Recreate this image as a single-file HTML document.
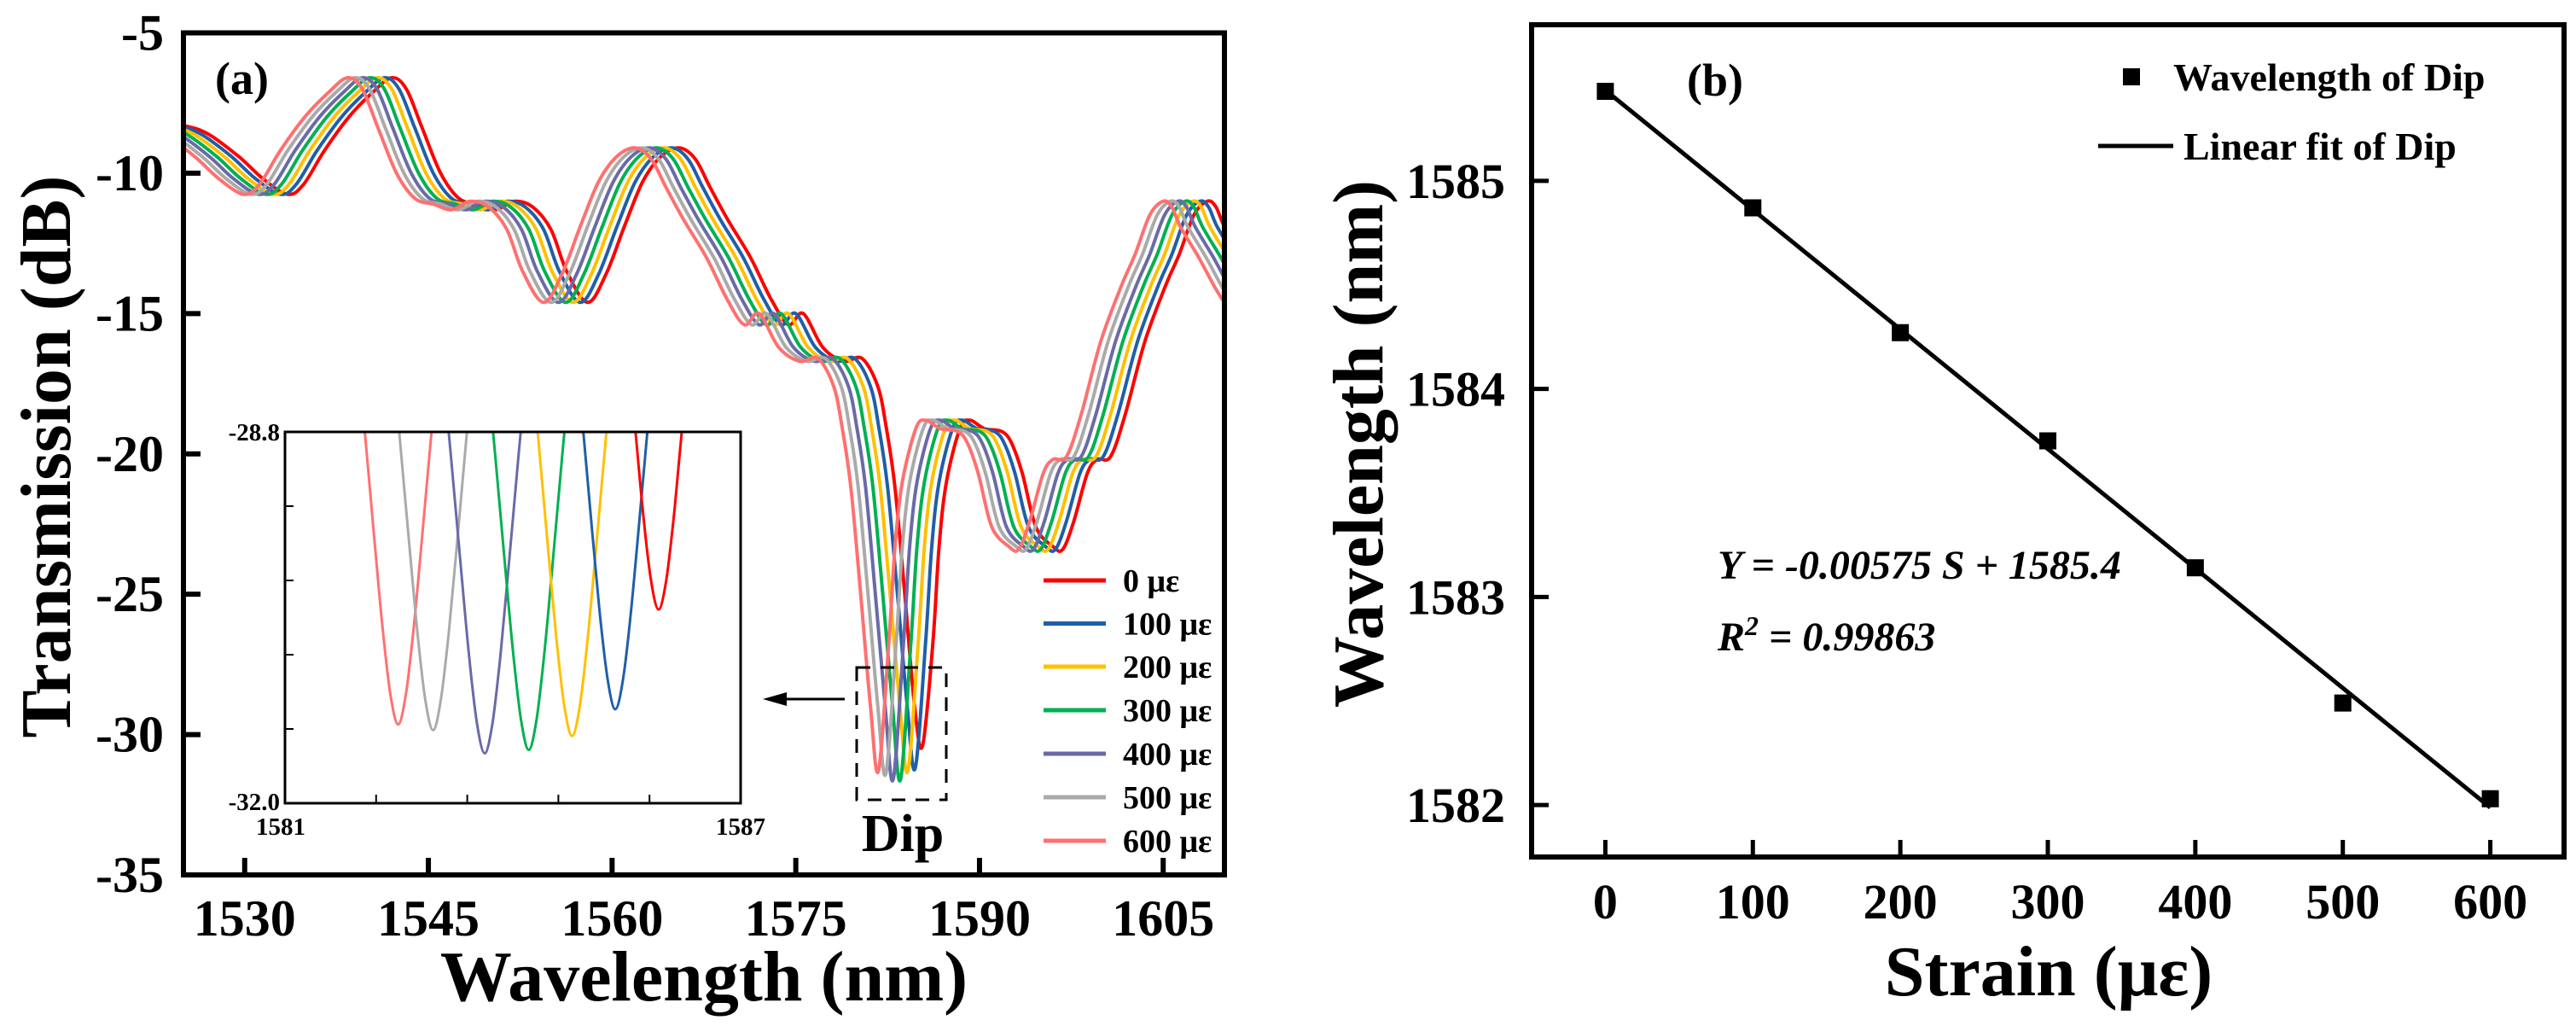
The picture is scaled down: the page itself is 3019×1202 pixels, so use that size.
<!DOCTYPE html>
<html><head><meta charset="utf-8"><style>
html,body{margin:0;padding:0;background:#fff}
svg{display:block;font-family:"Liberation Serif",serif;font-weight:bold}
</style></head><body>
<svg id="fig" width="3019" height="1202" viewBox="0 0 3019 1202" xmlns="http://www.w3.org/2000/svg">
<defs>
<clipPath id="clipA"><rect x="215" y="38.5" width="1220" height="986.5"/></clipPath>
<clipPath id="clipI"><rect x="334" y="506" width="534" height="435"/></clipPath>
</defs>
<g id="panelA"></g>
<g id="panelB"></g>
</svg>
<script>
// ---------- Panel (a) data ----------
const seriesLabels = ["0 με","100 με","200 με","300 με","400 με","500 με","600 με"];
const seriesColors = ["#ff0000","#1f5fa8","#ffc000","#00b050","#6a6aa8","#aaaaaa","#ff7070"];
const seriesShift = [0,-0.6,-1.2,-1.8,-2.4,-3.0,-3.6];
const seriesDipDepth = [-30.4,-31.2,-31.3,-31.6,-31.6,-31.4,-31.3];
const baseWl = [1522,1525,1527,1529.5,1531.5,1533.5,1534.8,1536.5,1538.5,1540.5,1542,1543.2,1544.5,1546,1547.5,1549,1550.5,1552,1553.5,1555,1556.3,1558,1559.5,1561,1562.5,1564,1565.5,1566.8,1568,1569.5,1571.3,1573,1574.4,1575.6,1577.2,1578.9,1580.4,1581.7,1582.4,1583.1,1583.9,1584.7,1585.35,1586.2,1586.7,1587.3,1588.4,1589.2,1590.4,1591.8,1592.6,1593.5,1594.6,1596.0,1596.8,1597.7,1598.8,1599.6,1600.7,1601.9,1603.5,1605.2,1606.3,1607.5,1608.6,1609.3,1610,1611.5,1613,1614.5];
const baseDb = [-8.1,-8.3,-8.6,-9.4,-10.2,-10.75,-10.4,-9.2,-8.0,-7.1,-6.6,-7.0,-8.4,-10.0,-10.9,-11.1,-11.3,-11.0,-11.2,-12.0,-13.5,-14.6,-13.6,-11.9,-10.3,-9.4,-9.1,-9.5,-10.5,-11.7,-13.0,-14.5,-15.4,-15.0,-16.2,-16.7,-16.6,-17.6,-19.1,-21.2,-25.0,-29.0,-30.4,-26.7,-23.3,-21.0,-19.1,-18.8,-19.1,-19.2,-19.6,-20.7,-22.6,-23.3,-23.4,-22.4,-20.7,-20.2,-20.1,-18.6,-16.0,-14.0,-12.9,-11.5,-11.0,-11.2,-11.9,-13.0,-14.2,-15.2];
const dipIndex = 42;
const xTicksA = [1530,1545,1560,1575,1590,1605];
const yTicksA = [-5,-10,-15,-20,-25,-30,-35];
// inset data
const insetDipCenter = [1585.92,1585.35,1584.78,1584.21,1583.63,1582.95,1582.49];
const insetDipDepth = [-30.33,-31.19,-31.42,-31.54,-31.57,-31.37,-31.32];
const insetProfileOffset = [-0.7,-0.55,-0.45,-0.3,-0.2,-0.1,0,0.1,0.2,0.3,0.45,0.55,0.7];
const insetProfileRise = [4.4,3.3,2.6,1.5,0.8,0.25,0,0.25,0.8,1.5,2.6,3.3,4.4];
const insetXLabels = ["1581","1587"];
const insetYLabels = ["-28.8","-32.0"];
// ---------- Panel (b) data ----------
const strain = [0,100,200,300,400,500,600];
const dipWl = [1585.43,1584.87,1584.27,1583.75,1583.14,1582.49,1582.03];
const xTicksB = [0,100,200,300,400,500,600];
const yTicksB = [1582,1583,1584,1585];

const NS = "http://www.w3.org/2000/svg";
function mk(tag, attrs, parent){const e=document.createElementNS(NS,tag);for(const k in attrs)e.setAttribute(k,attrs[k]);parent.appendChild(e);return e;}
function spline(pts){
  let d="M"+pts[0][0].toFixed(1)+","+pts[0][1].toFixed(1);
  for(let i=0;i<pts.length-1;i++){
    const p0=pts[Math.max(0,i-1)],p1=pts[i],p2=pts[i+1],p3=pts[Math.min(pts.length-1,i+2)];
    const c1=[p1[0]+(p2[0]-p0[0])/6,p1[1]+(p2[1]-p0[1])/6];
    const c2=[p2[0]-(p3[0]-p1[0])/6,p2[1]-(p3[1]-p1[1])/6];
    d+="C"+c1[0].toFixed(1)+","+c1[1].toFixed(1)+" "+c2[0].toFixed(1)+","+c2[1].toFixed(1)+" "+p2[0].toFixed(1)+","+p2[1].toFixed(1);
  }
  return d;
}

// ===== Panel A =====
const A=document.getElementById("panelA");
const axL=215,axR=1435,axT=38.5,axB=1025;
const xA=v=>axL+(v-1525)/(1610-1525)*(axR-axL);
const yA=v=>axT+(v-(-5))/(-35-(-5))*(axB-axT);

for(let s=0;s<seriesLabels.length;s++){
  const pts=baseWl.map((w,i)=>[xA(w+seriesShift[s]), yA(i===dipIndex?seriesDipDepth[s]:baseDb[i])]);
  const p=mk("path",{d:spline(pts),fill:"none",stroke:seriesColors[s],"stroke-width":4,"clip-path":"url(#clipA)"},A);
  
  
}
const frameA=mk("rect",{x:axL,y:axT,width:axR-axL,height:axB-axT,fill:"none",stroke:"#000","stroke-width":6},A);


xTicksA.forEach(v=>{
  mk("line",{x1:xA(v),x2:xA(v),y1:axB,y2:axB-20,stroke:"#000","stroke-width":6},A);
  const t=mk("text",{x:xA(v),y:1096,"font-size":60,"text-anchor":"middle"},A);t.textContent=v;
  
  
});
yTicksA.forEach(v=>{
  mk("line",{x1:axL,x2:axL+20,y1:yA(v),y2:yA(v),stroke:"#000","stroke-width":6},A);
  const t=mk("text",{x:192,y:yA(v)+20,"font-size":60,"text-anchor":"end"},A);t.textContent=v;
  
  
});
let tt=mk("text",{x:825,y:1172,"font-size":84,"text-anchor":"middle"},A);tt.textContent="Wavelength (nm)";


tt=mk("text",{x:0,y:0,"font-size":84,"text-anchor":"middle",transform:"translate(82,535) rotate(-90)"},A);tt.textContent="Transmission (dB)";


tt=mk("text",{x:252,y:110,"font-size":54},A);tt.textContent="(a)";



// legend a
const legY=[680,730.5,781,832,883,934,985];
seriesLabels.forEach((l,i)=>{
  const ln=mk("line",{x1:1223,x2:1296,y1:legY[i],y2:legY[i],stroke:seriesColors[i],"stroke-width":5},A);
  
  
  const t=mk("text",{x:1316,y:legY[i]+13,"font-size":38},A);t.textContent=l;
  
  
});

// dip box, arrow, label
const box=mk("rect",{x:1004,y:782,width:105,height:155,fill:"none",stroke:"#000","stroke-width":3,"stroke-dasharray":"16,12"},A);


const arr=mk("line",{x1:990,x2:912,y1:819,y2:819,stroke:"#000","stroke-width":3},A);


const ah=mk("polygon",{points:"894,819 922,811 922,827",fill:"#000"},A);


tt=mk("text",{x:1058,y:997,"font-size":62,"text-anchor":"middle"},A);tt.textContent="Dip";



// inset
const iL=334,iR=868,iT=506,iB=941;
const xI=v=>iL+(v-1581)/(1587-1581)*(iR-iL);
const yI=v=>iT+(v-(-28.8))/(-32-(-28.8))*(iB-iT);
const insetBg=mk("rect",{x:iL,y:iT,width:iR-iL,height:iB-iT,fill:"#fff"},A);


for(let s=seriesLabels.length-1;s>=0;s--){
  const pts=insetProfileOffset.map((o,k)=>[xI(insetDipCenter[s]+o), yI(insetDipDepth[s]+insetProfileRise[k])]);
  const p=mk("path",{d:spline(pts),fill:"none",stroke:seriesColors[s],"stroke-width":3,"clip-path":"url(#clipI)"},A);
  
  
}
const iframe=mk("rect",{x:iL,y:iT,width:iR-iL,height:iB-iT,fill:"none",stroke:"#000","stroke-width":3},A);


for(let k=1;k<5;k++){
  mk("line",{x1:xI(1581+1.2*k),x2:xI(1581+1.2*k),y1:iB,y2:iB-10,stroke:"#000","stroke-width":2},A);
  mk("line",{x1:iL,x2:iL+10,y1:yI(-28.8-0.64*k),y2:yI(-28.8-0.64*k),stroke:"#000","stroke-width":2},A);
}
tt=mk("text",{x:328,y:yI(-28.8)+10,"font-size":29,"text-anchor":"end"},A);tt.textContent=insetYLabels[0];


tt=mk("text",{x:328,y:yI(-32)+8,"font-size":29,"text-anchor":"end"},A);tt.textContent=insetYLabels[1];


tt=mk("text",{x:xI(1581)-5,y:978,"font-size":29,"text-anchor":"middle"},A);tt.textContent=insetXLabels[0];


tt=mk("text",{x:xI(1587),y:978,"font-size":29,"text-anchor":"middle"},A);tt.textContent=insetXLabels[1];



// ===== Panel B =====
const B=document.getElementById("panelB");
const bL=1795,bR=3005,bT=29,bB=1004;
const xB=v=>bL+(v-(-50))/(650-(-50))*(bR-bL);
const yB=v=>bT+(1585.75-v)/(1585.75-1581.75)*(bB-bT);
const n=strain.length,mx=strain.reduce((a,b)=>a+b)/n,my=dipWl.reduce((a,b)=>a+b)/n;
let sxy=0,sxx=0;strain.forEach((x,i)=>{sxy+=(x-mx)*(dipWl[i]-my);sxx+=(x-mx)*(x-mx);});
const slope=sxy/sxx,icpt=my-slope*mx;
const fit=mk("line",{x1:xB(strain[0]),y1:yB(icpt+slope*strain[0]),x2:xB(strain[n-1]),y2:yB(icpt+slope*strain[n-1]),stroke:"#000","stroke-width":5},B);


strain.forEach((s,i)=>{
  const r=mk("rect",{x:xB(s)-10,y:yB(dipWl[i])-10,width:20,height:20,fill:"#000"},B);
  
  
});
const frameB=mk("rect",{x:bL,y:bT,width:bR-bL,height:bB-bT,fill:"none",stroke:"#000","stroke-width":6},B);


xTicksB.forEach(v=>{
  mk("line",{x1:xB(v),x2:xB(v),y1:bB,y2:bB-20,stroke:"#000","stroke-width":5},B);
  const t=mk("text",{x:xB(v),y:1076,"font-size":58,"text-anchor":"middle"},B);t.textContent=v;
  
  
});
yTicksB.forEach(v=>{
  mk("line",{x1:bL,x2:bL+20,y1:yB(v),y2:yB(v),stroke:"#000","stroke-width":5},B);
  const t=mk("text",{x:1764,y:yB(v)+20,"font-size":58,"text-anchor":"end"},B);t.textContent=v;
  
  
});
tt=mk("text",{x:2401,y:1166,"font-size":84,"text-anchor":"middle"},B);tt.textContent="Strain (με)";


tt=mk("text",{x:0,y:0,"font-size":84,"text-anchor":"middle",transform:"translate(1620,520) rotate(-90)"},B);tt.textContent="Wavelength (nm)";


tt=mk("text",{x:1977,y:112,"font-size":54},B);tt.textContent="(b)";


const lsq=mk("rect",{x:2488,y:80,width:20,height:20,fill:"#000"},B);


tt=mk("text",{x:2547,y:106,"font-size":46},B);tt.textContent="Wavelength of Dip";


const lln=mk("line",{x1:2459,x2:2547,y1:171,y2:171,stroke:"#000","stroke-width":5},B);


tt=mk("text",{x:2559,y:187,"font-size":46},B);tt.textContent="Linear fit of Dip";


tt=mk("text",{x:2013,y:678,"font-size":48,"font-style":"italic"},B);tt.textContent="Y = -0.00575 S + 1585.4";


tt=mk("text",{x:2013,y:762,"font-size":48,"font-style":"italic"},B);
tt.innerHTML='R<tspan dy="-18" font-size="32">2</tspan><tspan dy="18"> = 0.99863</tspan>';


</script>
</body></html>
